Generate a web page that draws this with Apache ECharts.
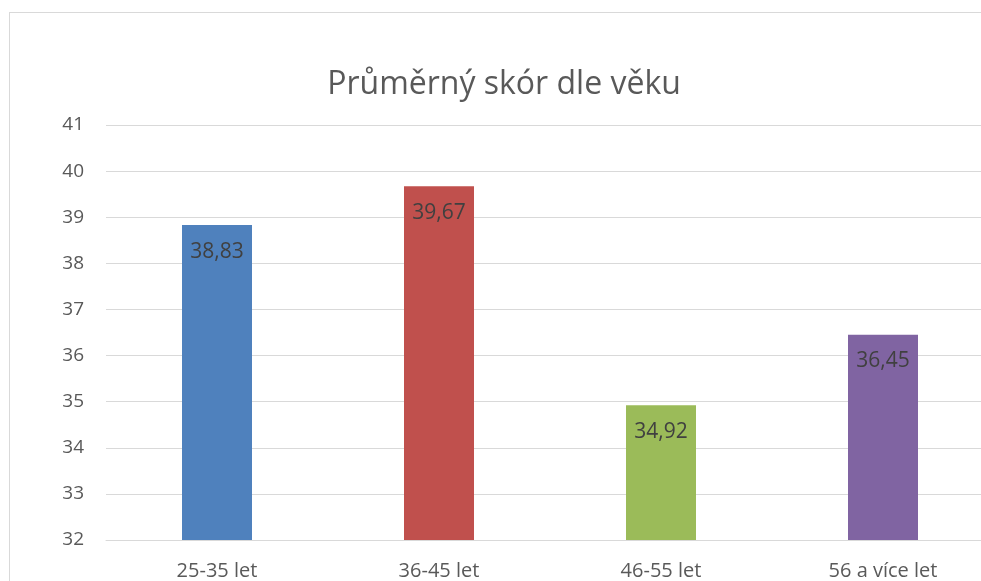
<!DOCTYPE html>
<html>
<head>
<meta charset="utf-8">
<script src="https://cdn.jsdelivr.net/npm/echarts@6/dist/echarts.min.js"></script>
<style>
  html, body { margin: 0; padding: 0; overflow: hidden; background: #fff; }
  #chart { position: absolute; left: 0; top: 0; width: 1008px; height: 600px; }
  #frame {
    position: absolute; left: 9px; top: 12px; width: 1200px; height: 800px;
    border-left: 1px solid #d9d9d9; border-top: 1px solid #d9d9d9;
    pointer-events: none;
  }
</style>
</head>
<body>
<div id="chart"></div>
<div id="frame"></div>
<script>
// Průměrný skór dle věku – sloupcový graf
// (graf je vpravo a dole oříznutý oknem, proto je plátno širší než okno)
const categories = ['25-35 let', '36-45 let', '46-55 let', '56 a více let']
const values = [38.83, 39.67, 34.92, 36.45]
const colors = ['#4F81BD', '#C0504D', '#9BBB59', '#8064A2']
const yMin = 32
const yMax = 41

const font = '"Open Sans", "Noto Sans", sans-serif'
const chart = echarts.init(document.getElementById('chart'))

chart.setOption({
  backgroundColor: '#fff',
  animation: false,
  title: {
    text: 'Průměrný skór dle věku',
    left: 'center',
    top: 64,
    textStyle: { fontFamily: font, fontSize: 32, fontWeight: 'normal', color: '#595959' },
  },
  grid: { left: 106, right: 14, top: 125, bottom: 60 },
  xAxis: {
    type: 'category',
    data: categories,
    axisLine: { show: true, lineStyle: { color: '#d9d9d9', width: 1 } },
    axisTick: { show: false },
    axisLabel: { fontFamily: font, fontSize: 20, color: '#595959', margin: 21 },
  },
  yAxis: {
    type: 'value',
    min: yMin,
    max: yMax,
    interval: 1,
    axisLine: { show: false },
    axisTick: { show: false },
    splitLine: { lineStyle: { color: '#d9d9d9', width: 1 } },
    axisLabel: { fontFamily: font, fontSize: 19, color: '#595959', margin: 22 },
  },
  series: [{
    type: 'bar',
    data: values.map((v, i) => ({ value: v, itemStyle: { color: colors[i] } })),
    barWidth: 70,
    label: {
      show: true,
      position: 'insideTop',
      distance: 16,
      fontFamily: font,
      fontSize: 21,
      color: '#404040',
      formatter: (p) => p.value.toFixed(2).replace('.', ','),
    },
  }],
})
</script>
</body>
</html>
